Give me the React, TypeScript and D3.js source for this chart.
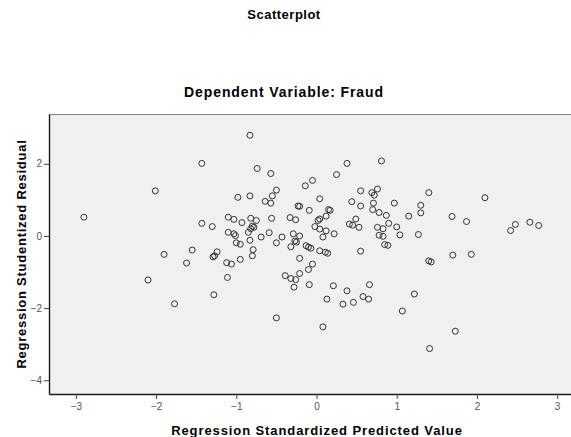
import * as d3 from 'd3';
import React, { useEffect, useRef } from 'react';

// Standardized predicted value (x) and studentized residual (y)
const predicted: number[] = [
  -2.9, -2.01, -2.1, -1.9, -1.77, -1.62, -1.55, -1.43, -1.43, -1.3,
  -1.29, -1.27, -1.24, -1.28, -1.12, -1.06, -1.11, -1.1, -1.03, -1.1,
  -1.03, -1.01, -1.0, -0.95, -0.95, -0.98, -0.93, -0.83, -0.83, -0.82,
  -0.75, -0.8, -0.78, -0.82, -0.85, -0.83, -0.8, -0.79, -0.74, -0.69,
  -0.64, -0.59, -0.57, -0.57, -0.56, -0.55, -0.5, -0.5, -0.5, -0.43,
  -0.39, -0.33, -0.32, -0.32, -0.29, -0.27, -0.26, -0.28, -0.26, -0.25,
  -0.23, -0.21, -0.21, -0.21, -0.21, -0.14, -0.13, -0.1, -0.07, -0.1,
  -0.09, -0.09, -0.05, -0.05, -0.02, 0.04, 0.02, 0.04, 0.04, 0.08,
  0.04, 0.08, 0.11, 0.12, 0.12, 0.14, 0.15, 0.17, 0.13, 0.21,
  0.22, 0.25, 0.33, 0.38, 0.38, 0.41, 0.44, 0.45, 0.46, 0.49,
  0.53, 0.55, 0.55, 0.55, 0.58, 0.65, 0.66, 0.69, 0.72, 0.76,
  0.71, 0.7, 0.78, 0.81, 0.76, 0.78, 0.83, 0.83, 0.87, 0.85,
  0.89, 0.9, 0.97, 1.0, 1.04, 1.07, 1.15, 1.22, 1.27, 1.3,
  1.3, 1.4, 1.4, 1.43, 1.41, 1.69, 1.7, 1.73, 1.87, 1.93,
  2.1, 2.42, 2.48, 2.66, 2.77,
];
const residual: number[] = [
  0.52, 1.25, -1.22, -0.51, -1.88, -0.75, -0.39, 2.01, 0.35, 0.26,
  -0.58, -0.55, -0.44, -1.63, -0.74, -0.78, -1.15, 0.52, 0.46, 0.1,
  0.06, 0.01, -0.19, -0.23, -0.65, 1.07, 0.37, 2.79, 1.11, 0.49,
  0.43, 0.27, 0.24, 0.2, 0.1, -0.12, -0.55, -0.38, 1.87, -0.03,
  0.96, 0.09, 1.73, 0.91, 0.49, 1.11, 1.27, -0.19, -2.27, -0.03,
  -1.1, 0.51, -1.18, -0.3, 0.06, -0.14, -1.21, -1.42, 0.45, -0.17,
  0.83, 0.82, 0.0, -0.62, -1.04, 1.39, -0.27, -0.31, -0.34, -0.93,
  -1.35, 0.71, 1.54, -0.78, 0.26, 1.03, 0.43, 0.47, 0.19, -0.03,
  -0.41, -2.52, -0.45, 0.55, 0.14, -0.48, 0.73, 0.71, -1.75, -1.38,
  0.06, 1.7, -1.89, 2.01, -1.52, 0.33, 0.95, 0.3, -1.84, 0.47,
  0.24, 1.25, 0.83, -0.42, -1.68, -1.75, -1.35, 1.2, 1.13, 1.3,
  0.91, 0.73, 0.65, 2.08, 0.24, 0.02, 0.2, -0.01, 0.57, -0.24,
  -0.26, 0.35, 0.91, 0.25, 0.03, -2.08, 0.55, -1.61, 0.04, 0.85,
  0.64, 1.2, -0.69, -0.72, -3.12, 0.54, -0.53, -2.64, 0.4, -0.51,
  1.06, 0.15, 0.32, 0.38, 0.29,
];

const xTicks = [-3, -2, -1, 0, 1, 2, 3];
const yTicks = [-4, -2, 0, 2];

const chartTitle = 'Scatterplot';
const subTitle = 'Dependent Variable: Fraud';
const xLabel = 'Regression Standardized Predicted Value';
const yLabel = 'Regression Studentized Residual';

const width = 571;
const height = 437;
const margin = { top: 114, right: -13, bottom: 43, left: 49 };
const font = '"Liberation Sans", Arial, sans-serif';

const App: React.FC = () => {
  const svgRef = useRef<SVGSVGElement | null>(null);

  useEffect(() => {
    if (!svgRef.current) return;
    const svg = d3.select(svgRef.current);
    svg.selectAll('*').remove();

    const innerWidth = width - margin.left - margin.right;
    const innerHeight = height - margin.top - margin.bottom;

    const x = d3.scaleLinear().domain([-3.335, 3.335]).range([0, innerWidth]);
    const y = d3.scaleLinear().domain([-4.38, 3.38]).range([innerHeight, 0]);

    const g = svg.append('g').attr('transform', `translate(${margin.left},${margin.top})`);

    // plot background
    g.append('rect')
      .attr('width', innerWidth)
      .attr('height', innerHeight)
      .attr('fill', '#f0f0f0');

    // frame: grey on top, black left and bottom
    g.append('line')
      .attr('x1', 0).attr('x2', innerWidth)
      .attr('y1', 0.5).attr('y2', 0.5)
      .attr('stroke', '#808080');

    // Y axis
    const yAxis = g
      .append('g')
      .call(
        d3.axisLeft(y).tickValues(yTicks).tickSizeInner(5).tickSizeOuter(0).tickPadding(2).tickFormat(d3.format('d')),
      );
    yAxis.select('.domain').attr('stroke', '#1a1a1a').attr('stroke-width', 1.4);
    yAxis.selectAll('.tick line').attr('stroke', '#444');
    yAxis.selectAll('text').style('font-family', font).style('font-size', '10px').style('fill', '#555');

    // X axis
    const xAxis = g
      .append('g')
      .attr('transform', `translate(0,${innerHeight})`)
      .call(
        d3.axisBottom(x).tickValues(xTicks).tickSizeInner(5).tickSizeOuter(0).tickPadding(4).tickFormat(d3.format('d')),
      );
    xAxis.select('.domain').attr('stroke', '#1a1a1a').attr('stroke-width', 1.4);
    xAxis.selectAll('.tick line').attr('stroke', '#444');
    xAxis.selectAll('text').style('font-family', font).style('font-size', '10px').style('fill', '#555');

    // points
    g.append('g')
      .selectAll('circle')
      .data(d3.range(predicted.length))
      .enter()
      .append('circle')
      .attr('cx', (i) => x(predicted[i]))
      .attr('cy', (i) => y(residual[i]))
      .attr('r', 3)
      .attr('fill', 'none')
      .attr('stroke', '#333')
      .attr('stroke-width', 1);

    // titles
    svg.append('text')
      .attr('x', 284).attr('y', 19)
      .attr('text-anchor', 'middle')
      .style('font-family', font).style('font-weight', 'bold').style('font-size', '13px')
      .style('letter-spacing', '0.5px')
      .text(chartTitle);

    svg.append('text')
      .attr('x', 284).attr('y', 97)
      .attr('text-anchor', 'middle')
      .style('font-family', font).style('font-weight', 'bold').style('font-size', '14px')
      .style('letter-spacing', '0.9px')
      .text(subTitle);

    svg.append('text')
      .attr('x', 317).attr('y', 435)
      .attr('text-anchor', 'middle')
      .style('font-family', font).style('font-weight', 'bold').style('font-size', '13px')
      .style('letter-spacing', '0.9px')
      .text(xLabel);

    svg.append('text')
      .attr('transform', `translate(25.5,${margin.top + innerHeight / 2}) rotate(-90)`)
      .attr('text-anchor', 'middle')
      .style('font-family', font).style('font-weight', 'bold').style('font-size', '13px')
      .style('letter-spacing', '0.75px')
      .text(yLabel);
  }, []);

  return (
    <div style={{ position: 'absolute', left: 0, top: 0, width, height, background: '#fff' }}>
      <svg ref={svgRef} width={width} height={height} style={{ display: 'block' }}></svg>
    </div>
  );
};

export default App;
